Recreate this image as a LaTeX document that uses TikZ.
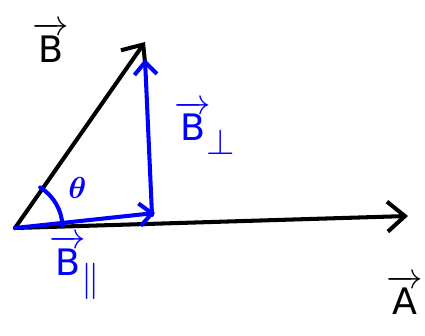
\documentclass[tikz,border=0pt]{standalone}
\usepackage{amsmath}
\usepackage{fontspec}
\setsansfont{DejaVu Sans}
\usepackage{tikz}
\usetikzlibrary{arrows.meta, positioning, calc}
\tikzset{
    vec/.style={line width=2.3pt, line cap=round, line join=round, -{Straight Barb[length=3.5mm, width=6mm, line width=2.3pt]}},
    comp/.style={line width=2.3pt, line cap=round, draw=blue, -{Straight Barb[length=2.5mm, width=4.5mm, line width=2.3pt]}},
    lbl/.style={font=\huge\sffamily, inner sep=1pt},
    blbl/.style={lbl, text=blue}
}

\begin{document}
\begin{tikzpicture}
    \useasboundingbox (0,0) rectangle (8.5,6.7);
        % Points
        \coordinate (O) at (0.3,2.14);
        \coordinate (Btip) at (2.9,5.86);
        \coordinate (Atip) at (8.16,2.38);
        \coordinate (Bpar) at (3.1,2.44);
        \coordinate (Pfoot) at (3.04,2.4);
        \coordinate (Pperp) at (2.9,5.52);

        % Labels
        \node[lbl] (labB) at (1.02,5.85) {$\overrightarrow{\mathsf{B}}$};
        \node[lbl] (labA) at (8.1,0.8) {$\overrightarrow{\mathsf{A}}$};
        \node[blbl] (labBperp) at (4.1,4.15) {$\overrightarrow{\mathsf{B}}_{\!\textstyle\perp}$};
        \node[blbl] (labBpar) at (1.5,1.35) {$\overrightarrow{\mathsf{B}}_{\!\textstyle\parallel}$};
        \node[blbl, font=\LARGE\sffamily] (theta) at (1.55,2.95) {$\boldsymbol{\theta}$};

        % Vectors
        \draw[vec] (O) -- (Btip);
        \draw[vec] (O) -- (Atip);
        \draw[comp] (O) -- (Bpar);
        \draw[comp] (Pfoot) -- (Pperp);

        % Angle
        \draw[blue, line width=2.3pt, line cap=round] ($(O)+(0.95,0.04)$) arc[start angle=2, end angle=58, radius=0.95];
    \end{tikzpicture}
\end{document}
